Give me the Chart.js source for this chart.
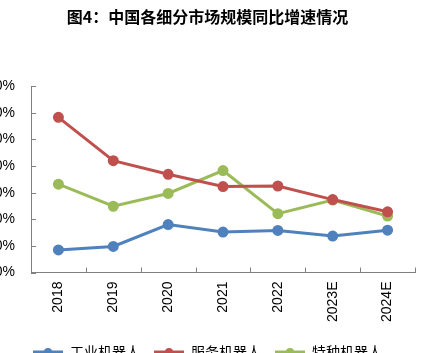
<!DOCTYPE html>
<html><head><meta charset="utf-8">
<script src="https://cdn.jsdelivr.net/npm/chart.js@4"></script>
<style>
html,body{margin:0;padding:0;background:#fff;overflow:hidden;width:422px;height:353px;}
#wrap{position:absolute;left:0;top:0;width:422px;height:369px;}
</style></head><body>
<div id="wrap"><canvas id="c" width="422" height="369"></canvas></div>
<script>
const categories = ['2018','2019','2020','2021','2022','2023E','2024E'];
const industrial = [8.5, 9.8, 18.0, 15.2, 15.8, 13.7, 15.9];
const service = [58.3, 42.0, 36.9, 32.3, 32.5, 27.4, 22.8];
const special = [33.2, 24.9, 29.7, 38.3, 22.1, 27.2, 21.2];
const yTicks = [0, 10, 20, 30, 40, 50, 60, 70];
const seriesNames = ['工业机器人', '服务机器人', '特种机器人'];
const colors = ['#4F81BD', '#C0504D', '#9BBB59'];

function legendIcon(color){
  const cv = document.createElement('canvas');
  cv.width = 30; cv.height = 10;
  const g = cv.getContext('2d');
  g.strokeStyle = color; g.lineWidth = 3;
  g.beginPath(); g.moveTo(0,5); g.lineTo(30,5); g.stroke();
  g.fillStyle = color; g.beginPath(); g.arc(15,5,4,0,Math.PI*2); g.fill();
  return cv;
}

const innerTicks = {
  id:'innerTicks',
  afterDraw(chart){
    const ctx = chart.ctx, x = chart.scales.x, y = chart.scales.y;
    const ca = chart.chartArea;
    const half = (x.getPixelForValue(1)-x.getPixelForValue(0))/2;
    ctx.save();
    ctx.strokeStyle = '#808080'; ctx.lineWidth = 1;
    ctx.beginPath();
    yTicks.forEach(v=>{ const py = Math.round(y.getPixelForValue(v))+0.5; ctx.moveTo(ca.left, py); ctx.lineTo(ca.left+5, py); });
    for(let i=0;i<categories.length;i++){
      const bx = Math.round(x.getPixelForValue(i) + half)+0.5;
      ctx.moveTo(bx, ca.bottom); ctx.lineTo(bx, ca.bottom-5);
    }
    ctx.stroke();
    ctx.restore();
  }
};

const mk = (i, data) => ({
  label: seriesNames[i], data, borderColor: colors[i], backgroundColor: colors[i],
  borderWidth: 3, pointRadius: 4, pointHoverRadius: 4, pointStyle: 'circle', tension: 0
});

const icons = colors.map(legendIcon);

new Chart(document.getElementById('c'), {
  type: 'line',
  data: { labels: categories, datasets: [mk(0, industrial), mk(1, service), mk(2, special)] },
  options: {
    responsive: false, animation: false,
    layout: { padding: { left: 0, right: 7, top: 0, bottom: 0 } },
    plugins: {
      title: { display: true, text: '图4：中国各细分市场规模同比增速情况',
        font: { family: '"Noto Sans CJK SC", sans-serif', size: 16, weight: 'bold' }, color: '#000',
        padding: { top: 7, bottom: 60 } },
      legend: { position: 'bottom',
        labels: { usePointStyle: true, pointStyleWidth: 30, boxHeight: 10, padding: 14,
          font: { family: '"Noto Sans CJK SC", sans-serif', size: 14 }, color: '#000',
          generateLabels(chart){
            return chart.data.datasets.map((d,i)=>({ text: d.label, pointStyle: icons[i], fillStyle: colors[i], strokeStyle: colors[i], lineWidth: 0, hidden: false, datasetIndex: i, fontColor:'#000' }));
          } } },
      tooltip: { enabled: false }
    },
    scales: {
      x: { offset: true, grid: { display: false, drawTicks: false, offset: true }, border: { color: '#808080', width: 1 },
        ticks: { maxRotation: 90, minRotation: 90, padding: 9, color: '#000',
          font: { family: '"Liberation Sans", Arial, sans-serif', size: 14 } } },
      y: { min: 0, max: 70, grid: { display: false, drawTicks: false }, border: { color: '#808080', width: 1 },
        afterBuildTicks(s){ s.ticks = yTicks.map(v=>({value:v})); },
        afterFit(s){ s.width = 31; },
        ticks: { padding: 16, color: '#000', callback: v => v + '%',
          font: { family: '"Liberation Sans", Arial, sans-serif', size: 14 } } }
    }
  },
  plugins: [innerTicks]
});
</script>
</body></html>
